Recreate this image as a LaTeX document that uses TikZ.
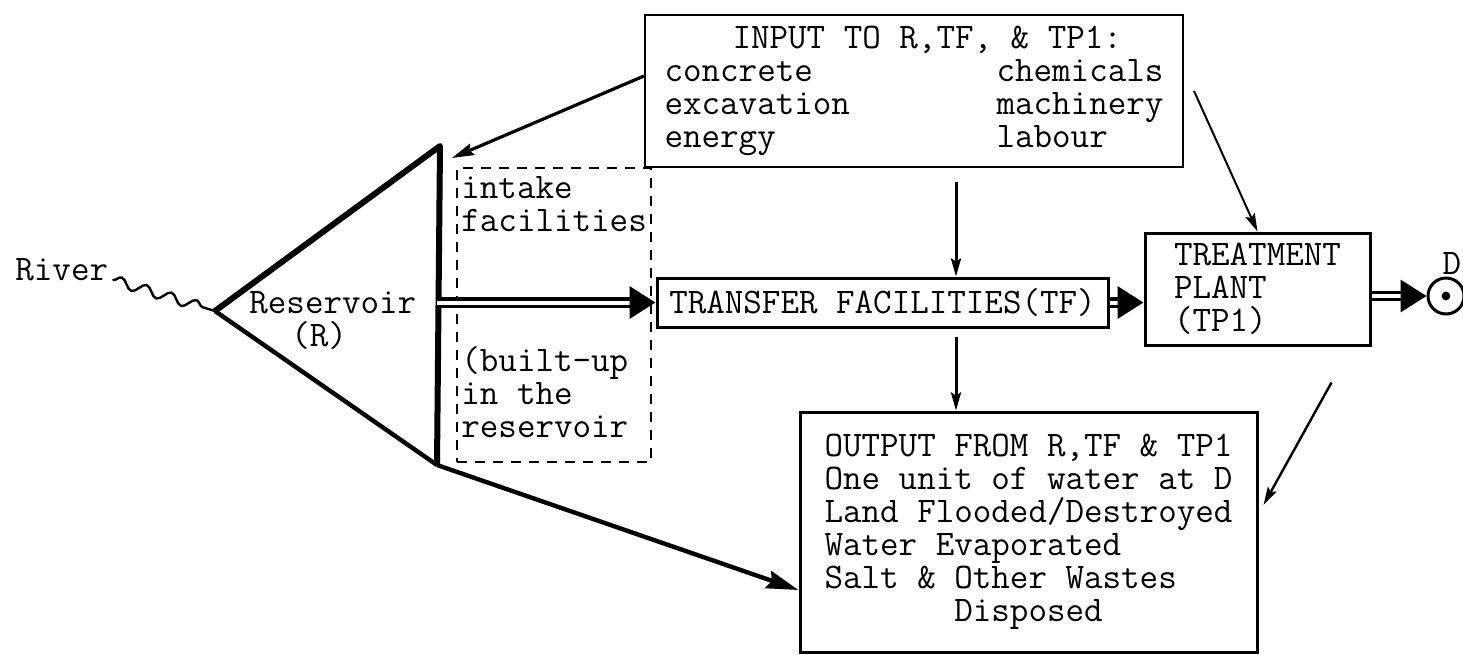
\documentclass[tikz,border=0pt]{standalone}
\usepackage{tikz}
\usetikzlibrary{arrows.meta,positioning,decorations.pathmorphing}

\begin{document}
\begin{tikzpicture}[x=0.5pt,y=-0.5pt,font=\fontsize{18}{16.5}\selectfont\ttfamily,
    >={Stealth[length=9pt,width=5pt,inset=1.5pt]},
    box/.style={draw,line width=1.5pt,inner sep=2pt,align=left},
    dashbox/.style={draw,dash pattern=on 5pt off 4pt,line width=0.8pt},
    lbl/.style={inner sep=2pt,align=left},
    dbl/.style={double,double distance=2pt,line width=1.7pt,-{Triangle[length=13pt,width=16pt]}}]
\useasboundingbox (0,0) rectangle (1463,654);
\node[box,line width=1pt,minimum width=269pt,minimum height=76pt] (in) at (914,91) {\hspace*{34pt}INPUT TO R,TF, \& TP1:\\\makebox[166pt][l]{concrete}chemicals\\\makebox[166pt][l]{excavation}machinery\\\makebox[166pt][l]{energy}labour};
\node[box,minimum width=225.5pt,minimum height=24.5pt] (tf) at (882.5,302.5) {TRANSFER FACILITIES(TF)};
\node[box,minimum width=112.5pt,minimum height=56pt] (tp) at (1257.5,289) {TREATMENT\\PLANT\\(TP1)};
\node[box,minimum width=228.5pt,minimum height=120pt] (out) at (1028.5,532) {OUTPUT FROM R,TF \& TP1\\One unit of water at D\\Land Flooded/Destroyed\\Water Evaporated\\Salt \& Other Wastes\\\hphantom{0000000}Disposed};
\node[dashbox,minimum width=97pt,minimum height=147pt] (ib) at (554,315) {};
\node[lbl,anchor=north west] (ibtop) at (457,172) {intake\\facilities};
\node[lbl,anchor=north west] (ibbot) at (457,342) {(built-up\\in the\\reservoir};
\node[lbl,anchor=north west] (res) at (245,287) {Reservoir\\\hspace*{21pt}(R)};
\node[lbl,anchor=base west] (river) at (11,280) {River};
\node[circle,draw,line width=1.5pt,minimum size=18pt,inner sep=0pt] (dst) at (1446,296) {};
\node[lbl,above=-1pt of dst,xshift=3pt] (dlbl) {D};
\coordinate (apex) at (215,311);
\coordinate (damtop) at (440,146);
\coordinate (dambot) at (437,465);
\coordinate (feed) at ([xshift=21pt]in.south);
\draw[line width=3pt,line join=round] (apex) -- (damtop) -- (dambot);
\draw[line width=2.2pt] (apex) -- (dambot);
\draw[line width=1.2pt,decorate,decoration={snake,amplitude=2.5pt,segment length=13pt}] (river.base east) -- (apex);
\fill (dst) circle (2.2pt);
\draw[dbl] (tf.west -| dambot) -- (tf.west);
\draw[dbl] (tf.east) -- (tp.west |- tf.east);
\draw[dbl] (tp.east |- dst) -- (dst.west);
\draw[-{Stealth[length=11pt,width=6pt,inset=1.5pt]},line width=1.6pt] ([yshift=7.5pt]in.west) -- ([xshift=6pt,yshift=-6pt]damtop);
\draw[->,line width=1.5pt,shorten <=7pt] (feed) -- (feed |- tf.north);
\draw[->,line width=1.5pt,shorten <=4pt] (feed |- tf.south) -- (feed |- out.north);
\draw[->,line width=1pt] ([xshift=5pt]in.east) -- (tp.north);
\draw[->,line width=1.2pt] ([xshift=-20pt,yshift=-18pt]tp.south east) -- ([xshift=2.5pt,yshift=13.5pt]out.east);
\draw[-{Stealth[length=16pt,width=9pt,inset=2pt]},line width=2.2pt] (dambot) -- ([yshift=-29pt]out.west);
\end{tikzpicture}
\end{document}
